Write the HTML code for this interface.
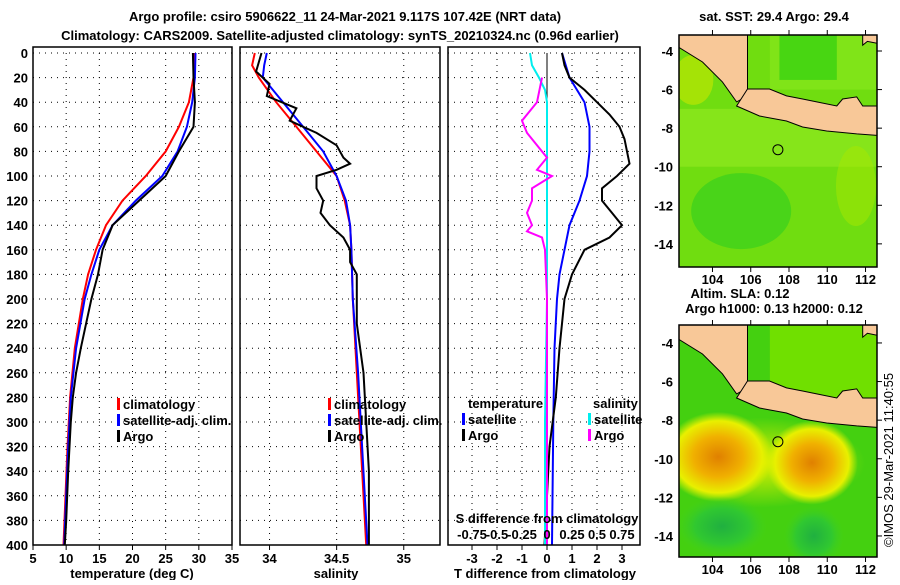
<!DOCTYPE html>
<html><head><meta charset="utf-8">
<style>
body{margin:0;background:#fff;}
svg text{font-family:"Liberation Sans",sans-serif;font-weight:bold;font-size:13px;fill:#000;}
</style></head>
<body>
<svg id="fig" width="900" height="580" viewBox="0 0 900 580" xmlns="http://www.w3.org/2000/svg">
<defs>
<radialGradient id="og1"><stop offset="0" stop-color="#e08000"/><stop offset="0.45" stop-color="#f0b000"/><stop offset="0.8" stop-color="#e8f000"/><stop offset="1" stop-color="#d8f000" stop-opacity="0"/></radialGradient>
<radialGradient id="gg1"><stop offset="0" stop-color="#20b040"/><stop offset="0.6" stop-color="#30c830"/><stop offset="1" stop-color="#40d020" stop-opacity="0"/></radialGradient>
<radialGradient id="yy1"><stop offset="0" stop-color="#e0f000"/><stop offset="1" stop-color="#e0f000" stop-opacity="0"/></radialGradient>
</defs>
<text x="345" y="21" text-anchor="middle">Argo profile: csiro 5906622_11 24-Mar-2021 9.117S 107.42E (NRT data)</text>
<text x="340" y="40" text-anchor="middle">Climatology: CARS2009. Satellite-adjusted climatology: synTS_20210324.nc (0.96d earlier)</text>
<g id="plots"></g>
<text x="774" y="21" text-anchor="middle">sat. SST: 29.4 Argo: 29.4</text>
<text x="740" y="298" text-anchor="middle">Altim. SLA: 0.12</text>
<text x="774" y="313" text-anchor="middle">Argo h1000: 0.13 h2000: 0.12</text>
<text transform="translate(893,547) rotate(-90)" style="font-weight:normal;font-size:13px">©IMOS 29-Mar-2021 11:40:55</text>
</svg>
<script>
// ---- data ----
const depthTicks=[0,20,40,60,80,100,120,140,160,180,200,220,240,260,280,300,320,340,360,380,400];
const tTicks=[5,10,15,20,25,30,35];
const sTicks=[34,34.5,35];
const sTickLabels=["34","34.5","35"];
const dTTicks=[-3,-2,-1,0,1,2,3];
const dSTickLabels=["-0.75","-0.5","-0.25","0","0.25","0.5","0.75"];
const dSTicks=[-0.75,-0.5,-0.25,0,0.25,0.5,0.75];
const lonTicks=[104,106,108,110,112];
const latTicks=[-4,-6,-8,-10,-12,-14];

const tClimD=[0,20,40,60,80,100,120,140,160,180,200,240,280,320,360,400];
const tClimV=[29.3,29.2,28.5,27,25,22,18.5,16,14.5,13.3,12.5,11.3,10.6,10.2,9.9,9.6];
const tSatD=[0,20,40,60,80,100,120,140,160,180,200,240,280,320,360,400];
const tSatV=[29.5,29.4,29,28.2,26.8,24.5,20.5,17,15,13.8,12.8,11.5,10.7,10.3,10,9.7];
const tArgoD=[0,20,40,60,80,100,120,140,160,180,200,220,240,260,280,300,340,380,400];
const tArgoV=[29.1,29.2,29.4,29.2,27,25,21,17,15.5,14.8,13.8,13,12.2,11.5,11,10.7,10.3,10,9.8];

const sClimD=[0,10,20,40,60,80,100,120,140,160,200,260,320,400];
const sClimV=[33.89,33.87,33.92,34.05,34.2,34.35,34.5,34.56,34.6,34.61,34.62,34.65,34.68,34.72];
const sSatD=[0,10,20,40,60,80,100,120,140,160,200,260,320,400];
const sSatV=[33.98,33.96,33.95,34.1,34.25,34.4,34.5,34.57,34.6,34.61,34.62,34.66,34.69,34.73];
const sArgoD=[0,15,25,35,45,55,65,75,85,90,95,100,110,120,130,140,150,160,170,180,220,260,300,340,400];
const sArgoV=[33.94,33.9,34.0,33.98,34.2,34.15,34.35,34.5,34.55,34.6,34.5,34.35,34.35,34.4,34.38,34.45,34.55,34.6,34.6,34.65,34.65,34.7,34.72,34.74,34.74];

const dTSatD=[0,20,40,60,80,100,120,140,160,180,200,240,300,400];
const dTSatV=[0.6,0.9,1.5,1.7,1.7,1.6,1.3,0.9,0.7,0.5,0.4,0.3,0.25,0.2];
const dTArgoD=[0,10,20,30,40,50,60,70,80,90,100,110,120,130,140,150,160,180,200,220,240,280,320,360,400];
const dTArgoV=[0.6,0.7,0.9,1.5,2.0,2.5,2.9,3.1,3.2,3.3,2.8,2.2,2.2,2.6,3.0,2.5,1.5,1.0,0.7,0.6,0.5,0.35,0.1,0.0,-0.1];
const dSSatD=[0,10,20,30,40,100,200,300,400];
const dSSatV=[-0.17,-0.15,-0.08,-0.02,0,0,0,-0.02,-0.02];
const dSArgoD=[20,40,55,65,75,85,95,100,110,120,130,140,145,150,160,200,300,400];
const dSArgoV=[-0.05,-0.1,-0.25,-0.2,-0.1,0.0,-0.1,0.05,-0.15,-0.15,-0.2,-0.15,-0.2,-0.05,-0.02,0.0,0.0,0.0];

// ---- helpers ----
const NS="http://www.w3.org/2000/svg";
const root=document.getElementById('plots');
function mk(tag,at,parent){const e=document.createElementNS(NS,tag);for(const k in at)e.setAttribute(k,at[k]);(parent||root).appendChild(e);return e;}
function txt(x,y,s,anchor,parent){const e=mk('text',{x:x,y:y,'text-anchor':anchor||'middle'},parent);e.textContent=s;return e;}
const Y0=53,Y1=545;
function yD(d){return Y0+(d/400)*(Y1-Y0);}

const panels=[
 {x0:33,x1:232,lo:5,hi:35,name:'temperature'},
 {x0:240,x1:440,lo:33.78,hi:35.27,name:'salinity'},
 {x0:448,x1:640,lo:-3.96,hi:3.72,name:'difference'}
];
function xs(p,v){return p.x0+(v-p.lo)/(p.hi-p.lo)*(p.x1-p.x0);}

function line(p,D,V,color,name,scale){
 const pts=D.map((d,i)=>xs(p,V[i]*(scale||1)).toFixed(1)+','+yD(d).toFixed(1)).join(' ');
 const e=mk('polyline',{points:pts,fill:'none',stroke:color,'stroke-width':2});
 
 
}
function frame(p,xt,xl){
 const g=mk('g',{});
 
 
 depthTicks.forEach(d=>{mk('line',{x1:p.x0,x2:p.x1,y1:yD(d),y2:yD(d),stroke:'#000','stroke-dasharray':'1,5'},g);});
 xt.forEach(v=>{const x=xs(p,v);mk('line',{x1:x,x2:x,y1:Y0,y2:Y1,stroke:'#000','stroke-dasharray':'1,5'},g);
   mk('line',{x1:x,x2:x,y1:Y1,y2:Y1+5,stroke:'#000'},g);});
 xt.forEach((v,i)=>{const t=txt(xs(p,v),563,xl[i],'middle',g);
   });
 return g;
}
function border(p){const r=mk('rect',{x:p.x0,y:47,width:p.x1-p.x0,height:Y1-47,fill:'none',stroke:'#000','stroke-width':1.5});
 }

depthTicks.forEach(d=>{const t=txt(28,yD(d)+5,String(d),'end');
 });

let p=panels[0];
frame(p,tTicks,tTicks.map(String));
line(p,tClimD,tClimV,'#f00','temperature-climatology-line');
line(p,tSatD,tSatV,'#00f','temperature-satellite-line');
line(p,tArgoD,tArgoV,'#000','temperature-argo-line');
border(p);
let t=txt(132,578,'temperature (deg C)');
function legend(x,y,items){items.forEach((it,i)=>{
 const r=mk('rect',{x:x,y:y+i*16-11,width:3,height:12,fill:it[1]});
 
 const tt=txt(x+6,y+i*16,it[0],'start');});}
legend(117,409,[['climatology','#f00'],['satellite-adj. clim.','#00f'],['Argo','#000']]);

p=panels[1];
frame(p,sTicks,sTickLabels);
line(p,sClimD,sClimV,'#f00','salinity-climatology-line');
line(p,sSatD,sSatV,'#00f','salinity-satellite-line');
line(p,sArgoD,sArgoV,'#000','salinity-argo-line');
border(p);
t=txt(336,578,'salinity');
legend(328,409,[['climatology','#f00'],['satellite-adj. clim.','#00f'],['Argo','#000']]);

p=panels[2];
frame(p,dTTicks,dTTicks.map(String));
mk('line',{x1:xs(p,0),x2:xs(p,0),y1:Y0,y2:Y1,stroke:'#000','stroke-width':1});
line(p,dTSatD,dTSatV,'#00f','t-diff-satellite-line');
line(p,dTArgoD,dTArgoV,'#000','t-diff-argo-line');
line(p,dSSatD,dSSatV,'#0ee','s-diff-satellite-line',4);
line(p,dSArgoD,dSArgoV,'#f0f','s-diff-argo-line',4);
border(p);
t=txt(545,578,'T difference from climatology');
t=txt(547,523,'S difference from climatology');
dSTicks.forEach((v,i)=>{const tt=txt(xs(p,v*4),539,dSTickLabels[i]);});
t=txt(468,408,'temperature','start');
t=txt(593,408,'salinity','start');
legend(462,424,[['satellite','#00f'],['Argo','#000']]);
legend(588,424,[['satellite','#0ee'],['Argo','#f0f']]);

// ---- maps ----
function map(y0,y1,latTop,latBot,kind){
 const x0=679,x1=877,lonL=102.25,lonR=112.6;
 const mx=l=>x0+(l-lonL)/(lonR-lonL)*(x1-x0);
 const my=l=>y0+(latTop-l)/(latTop-latBot)*(y1-y0);
 const g=mk('g',{});
 
 
 const cid='c'+kind;const cp=mk('clipPath',{id:cid},g);mk('rect',{x:x0,y:y0,width:x1-x0,height:y1-y0},cp);
 const inner=mk('g',{'clip-path':'url(#'+cid+')'},g);
 if(kind==='sst'){
  mk('rect',{x:x0,y:y0,width:x1-x0,height:y1-y0,fill:'#70dd10'},inner);
  mk('rect',{x:x0,y:my(-7),width:x1-x0,height:my(-10)-my(-7),fill:'#90e820',opacity:0.7},inner);
  mk('rect',{x:mx(107),y:y0,width:x1-mx(107),height:my(-6)-y0,fill:'#80e418'},inner);
  mk('rect',{x:mx(107.5),y:y0,width:mx(110.5)-mx(107.5),height:my(-5.5)-y0,fill:'#30d010',opacity:0.7},inner);
  mk('ellipse',{cx:mx(105.5),cy:my(-12.3),rx:50,ry:38,fill:'#22cc22',opacity:0.5},inner);
  mk('ellipse',{cx:mx(103),cy:my(-5.5),rx:20,ry:25,fill:'#c8e800',opacity:0.6},inner);
  mk('ellipse',{cx:mx(111.5),cy:my(-11),rx:20,ry:40,fill:'#a8e800',opacity:0.5},inner);
 } else {
  mk('rect',{x:x0,y:y0,width:x1-x0,height:y1-y0,fill:'#44d010'},inner);
  mk('rect',{x:mx(107),y:y0,width:x1-mx(107),height:my(-7)-y0,fill:'#70e000'},inner);
  mk('ellipse',{cx:mx(106.5),cy:my(-10.2),rx:105,ry:45,fill:'url(#yy1)'},inner);
  mk('ellipse',{cx:mx(104.3),cy:my(-9.9),rx:55,ry:45,fill:'url(#og1)'},inner);
  mk('ellipse',{cx:mx(109.2),cy:my(-10.2),rx:46,ry:42,fill:'url(#og1)'},inner);
  mk('ellipse',{cx:mx(104.5),cy:my(-13.5),rx:45,ry:30,fill:'url(#gg1)'},inner);
  mk('ellipse',{cx:mx(109.3),cy:my(-14),rx:30,ry:30,fill:'url(#gg1)'},inner);
 }
 const land=[[[102.0,-2],[105.83,-2],[105.83,-6.33],[105.26,-6.64],[104.52,-5.6],[103.48,-4.57],[102.22,-3.8],[102.0,-3.7]],
  [[105.26,-6.85],[105.83,-5.97],[106.98,-5.97],[107.87,-6.33],[108.71,-6.49],[109.45,-6.64],[110.5,-6.85],[110.8,-6.49],[111.54,-6.38],[111.85,-6.85],[113,-6.85],[113,-8.4],[111.54,-8.3],[109.97,-8.15],[108.71,-7.94],[107.87,-7.63],[106.46,-7.37]],
  [[111.85,-2],[113,-2],[113,-3.6],[112.6,-3.6],[112.1,-3.5],[111.85,-3.7]]];
 land.forEach(poly=>{const e=mk('polygon',{points:poly.map(q=>mx(q[0]).toFixed(1)+','+my(q[1]).toFixed(1)).join(' '),fill:'#f8c898',stroke:'#000','stroke-width':1},inner);
  });
 const c=mk('circle',{cx:mx(107.42),cy:my(-9.117),r:5,fill:'none',stroke:'#000','stroke-width':1},g);
 
 mk('rect',{x:x0,y:y0,width:x1-x0,height:y1-y0,fill:'none',stroke:'#000','stroke-width':1.5},g);
 lonTicks.forEach(l=>{mk('line',{x1:mx(l),x2:mx(l),y1:y0-5,y2:y0,stroke:'#000'},g);mk('line',{x1:mx(l),x2:mx(l),y1:y1,y2:y1+5,stroke:'#000'},g);
  const tt=txt(mx(l),y1+17,String(l),'middle',g);});
 latTicks.forEach(l=>{mk('line',{x1:x1,x2:x1+5,y1:my(l),y2:my(l),stroke:'#000'},g);
  const tt=txt(x0-6,my(l)+5,String(l),'end',g);});
}
map(35,267,-3.17,-15.2,'sst');
map(325,557,-3.07,-15.09,'sla');
</script>
</body></html>
